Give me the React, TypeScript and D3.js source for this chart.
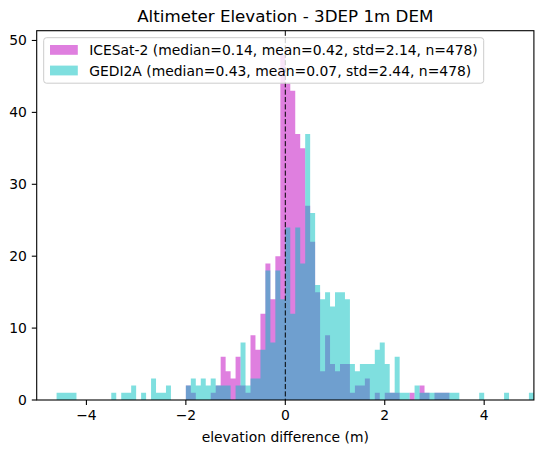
import { useMemo } from "react";
import * as d3 from "d3";

// histogram bins: 0.1 wide from -5 to 5 (index 0 = [-5.0, -4.9])
const binLo = -5;
const binHi = 5;
const binCount = 100;

const icesatCounts = [
  0, 0, 0, 0, 0, 0, 0, 0, 0, 0,
  0, 0, 0, 0, 0, 0, 0, 0, 0, 0,
  0, 0, 0, 0, 0, 0, 0, 0, 0, 0,
  2, 1, 0, 0, 0, 1, 2, 6, 4, 3,
  6, 2, 1, 9, 7, 12, 19, 14, 20, 48,
  44, 43, 37, 35, 27, 22, 15, 4, 9, 5,
  4, 5, 5, 1, 2, 2, 3, 0, 1, 0,
  1, 1, 1, 0, 0, 1, 0, 2, 1, 0,
  1, 1, 1, 0, 0, 0, 0, 0, 0, 0,
  0, 0, 0, 0, 0, 0, 0, 0, 0, 0,
];

const gediCounts = [
  0, 0, 0, 0, 1, 1, 1, 1, 0, 0,
  0, 0, 0, 0, 0, 1, 0, 1, 1, 2,
  0, 1, 0, 3, 1, 1, 2, 0, 0, 0,
  2, 3, 2, 3, 2, 3, 2, 2, 2, 0,
  2, 8, 2, 3, 3, 7, 18, 8, 18, 14,
  24, 12, 24, 19, 37, 26, 16, 14, 15, 13,
  15, 15, 14, 5, 4, 5, 5, 5, 7, 8,
  5, 1, 6, 1, 1, 0, 2, 1, 1, 1,
  1, 1, 1, 1, 1, 0, 0, 0, 0, 1,
  0, 0, 0, 0, 1, 0, 0, 0, 0, 1,
];

const seriesNames = [
  "ICESat-2 (median=0.14, mean=0.42, std=2.14, n=478)",
  "GEDI2A (median=0.43, mean=0.07, std=2.44, n=478)",
];
const seriesColors = ["#bf00bf", "#00bfbf"];

const xTicks = [-4, -2, 0, 2, 4];
const yTicks = [0, 10, 20, 30, 40, 50];

const W = 543;
const H = 453;
const left = 36.7;
const right = 533.9;
const top = 30.7;
const bottom = 400;
const FONT = "DejaVu Sans, sans-serif";

function barsPath(counts: number[], x: d3.ScaleLinear<number, number>, y: d3.ScaleLinear<number, number>) {
  const step = (binHi - binLo) / binCount;
  const p = d3.path();
  counts.forEach((c, i) => {
    if (!c) return;
    const x0 = x(binLo + i * step);
    const x1 = x(binLo + (i + 1) * step);
    p.rect(x0, y(c), x1 - x0, y(0) - y(c));
  });
  return p.toString();
}

export default function App() {
  const x = useMemo(() => d3.scaleLinear().domain([binLo, binHi]).range([left, right]), []);
  const ymax = d3.max([...icesatCounts, ...gediCounts])! * 1.07;
  const y = d3.scaleLinear().domain([0, ymax]).range([bottom, top]);

  const series = [icesatCounts, gediCounts];
  const fmt = (v: number) => (v < 0 ? "\u2212" + Math.abs(v) : String(v));

  return (
    <div style={{ position: "fixed", left: 0, top: 0 }}>
      <svg width={W} height={H} style={{ display: "block", background: "#fff" }} fontFamily={FONT}>
        <rect x={0} y={0} width={W} height={H} fill="#fff" />
        {series.map((counts, i) => (
          <path key={i} d={barsPath(counts, x, y)} fill={seriesColors[i]} fillOpacity={0.5} />
        ))}
        <line x1={x(0)} x2={x(0)} y1={top} y2={bottom} stroke="#000" strokeWidth={1} strokeDasharray="5.14 2.22" />

        {/* spines */}
        <rect x={left} y={top} width={right - left} height={bottom - top} fill="none" stroke="#000" strokeWidth={1.1} />

        {/* x axis */}
        {xTicks.map((t) => (
          <g key={t} transform={`translate(${x(t)},${bottom})`}>
            <line y2={4.9} stroke="#000" strokeWidth={1.1} />
            <text y={20} textAnchor="middle" fontSize={13.9} fill="#000">{fmt(t)}</text>
          </g>
        ))}
        <text x={(left + right) / 2} y={442} textAnchor="middle" fontSize={13.9} fill="#000">
          elevation difference (m)
        </text>

        {/* y axis */}
        {yTicks.map((t) => (
          <g key={t} transform={`translate(${left},${y(t)})`}>
            <line x2={-4.9} stroke="#000" strokeWidth={1.1} />
            <text x={-9.8} dy="0.36em" textAnchor="end" fontSize={13.9} fill="#000">{t}</text>
          </g>
        ))}

        <text x={(left + right) / 2} y={22.4} textAnchor="middle" fontSize={16.7} fill="#000">
          Altimeter Elevation - 3DEP 1m DEM
        </text>

        {/* legend */}
        <g transform={`translate(${left + 7},${top + 7})`}>
          <rect width={440} height={45.5} rx={2.8} fill="#fff" fillOpacity={0.8} stroke="#cccccc" strokeWidth={1} />
          {seriesNames.map((name, i) => (
            <g key={name} transform={`translate(0,${12.3 + i * 20.6})`}>
              <rect x={6.3} y={-5} width={27.8} height={9.8} fill={seriesColors[i]} fillOpacity={0.5} />
              <text x={45.5} dy="0.36em" fontSize={13.9} fill="#000">{name}</text>
            </g>
          ))}
        </g>
      </svg>
    </div>
  );
}
